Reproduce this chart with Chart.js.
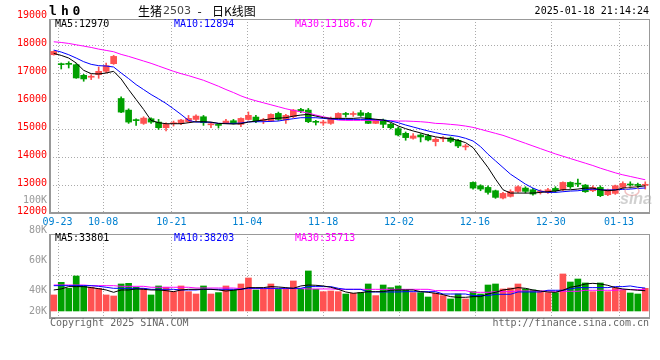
<!DOCTYPE html>
<html>
<head>
<meta charset="utf-8">
<script src="https://cdn.jsdelivr.net/npm/chart.js@4.4.1/dist/chart.umd.min.js"></script>
<style>
    body { margin: 0; background: #fff; }
    #wrap { position: relative; width: 660px; height: 360px; }
    canvas { position: absolute; left: 0; top: 0; }
</style>
</head>
<body>
<div id="wrap">
    <canvas id="chartKline" width="660" height="360"></canvas>
    <canvas id="chartVolume" width="660" height="360"></canvas>
</div>
<script>
// trading days shown (lh2503 daily)
const dates = [
    "09-20", "09-23", "09-24", "09-25", "09-26", "09-27", "09-30", "10-08", "10-09", "10-10",
    "10-11", "10-14", "10-15", "10-16", "10-17", "10-18", "10-21", "10-22", "10-23", "10-24",
    "10-25", "10-28", "10-29", "10-30", "10-31", "11-01", "11-04", "11-05", "11-06", "11-07",
    "11-08", "11-11", "11-12", "11-13", "11-14", "11-15", "11-18", "11-19", "11-20", "11-21",
    "11-22", "11-25", "11-26", "11-27", "11-28", "11-29", "12-02", "12-03", "12-04", "12-05",
    "12-06", "12-09", "12-10", "12-11", "12-12", "12-13", "12-16", "12-17", "12-18", "12-19",
    "12-20", "12-23", "12-24", "12-25", "12-26", "12-27", "12-30", "12-31", "01-02", "01-03",
    "01-06", "01-07", "01-08", "01-09", "01-10", "01-13", "01-14", "01-15", "01-16", "01-17",
];

const opens = [
    17654, 17310, 17345, 17298, 16919, 16850, 16943, 17061, 17334, 16090,
    15675, 15320, 15201, 15367, 15248, 15047, 15190, 15201, 15260, 15343,
    15438, 15150, 15142, 15225, 15296, 15165, 15340, 15427, 15300, 15285,
    15558, 15321, 15439, 15700, 15676, 15260, 15214, 15202, 15404, 15540,
    15520, 15581, 15558, 15202, 15321, 15167, 15013, 14847, 14669, 14787,
    14752, 14550, 14650, 14680, 14596, 14360, 13092, 12973, 12914, 12795,
    12535, 12594, 12772, 12890, 12831, 12750, 12736, 12878, 12831, 13092,
    13050, 12997, 12795, 12914, 12653, 12700, 12914, 13020, 13000, 12990,
];
const highs = [
    17790, 17357, 17405, 17334, 16955, 16943, 17215, 17357, 17630, 16149,
    15722, 15367, 15438, 15402, 15343, 15225, 15284, 15343, 15485, 15509,
    15485, 15225, 15201, 15343, 15343, 15402, 15610, 15486, 15380, 15546,
    15605, 15522, 15700, 15735, 15735, 15309, 15309, 15427, 15581, 15593,
    15617, 15664, 15593, 15344, 15356, 15214, 15072, 14894, 14835, 14835,
    14811, 14692, 14728, 14715, 14632, 14454, 13115, 13009, 12973, 12819,
    12736, 12831, 12973, 12938, 12878, 12831, 12878, 12938, 13115, 13115,
    13210, 13020, 12973, 12973, 12855, 12997, 13115, 13115, 13068, 13115,
];
const lows = [
    17640, 17144, 17180, 16810, 16706, 16765, 16812, 17002, 17310, 15580,
    15201, 15130, 15165, 15201, 14987, 14928, 15106, 15154, 15225, 15296,
    15130, 15047, 15035, 15201, 15177, 15083, 15320, 15226, 15190, 15261,
    15309, 15202, 15403, 15581, 15226, 15143, 15131, 15167, 15380, 15427,
    15451, 15451, 15190, 15190, 15048, 15001, 14752, 14598, 14633, 14538,
    14574, 14396, 14550, 14515, 14336, 14253, 12855, 12795, 12677, 12523,
    12499, 12570, 12736, 12712, 12641, 12677, 12700, 12736, 12795, 12878,
    12938, 12736, 12760, 12582, 12618, 12665, 12878, 12890, 12902, 12855,
];
const closes = [
    17772, 17298, 17310, 16824, 16789, 16880, 17061, 17263, 17594, 15604,
    15248, 15300, 15390, 15248, 15047, 15166, 15225, 15320, 15379, 15462,
    15225, 15170, 15130, 15284, 15201, 15379, 15490, 15285, 15320, 15522,
    15344, 15486, 15676, 15640, 15261, 15240, 15250, 15380, 15558, 15520,
    15545, 15486, 15202, 15321, 15167, 15048, 14787, 14693, 14752, 14716,
    14610, 14633, 14670, 14560, 14395, 14380, 12890, 12855, 12736, 12558,
    12700, 12772, 12938, 12772, 12677, 12770, 12831, 12795, 13092, 12938,
    13030, 12760, 12914, 12618, 12831, 12973, 13056, 13000, 12985, 13010,
];

// moving averages as drawn on the chart
const ma5 = [
    17701, 17630, 17535, 17357, 17097, 16978, 16966, 17002, 17061, 16789,
    16409, 16054, 15699, 15308, 15225, 15189, 15189, 15189, 15225, 15260,
    15260, 15248, 15201, 15189, 15177, 15189, 15248, 15285, 15320, 15368,
    15390, 15404, 15460, 15498, 15522, 15463, 15404, 15380, 15380, 15380,
    15380, 15400, 15380, 15350, 15320, 15240, 15110, 15012, 14930, 14860,
    14780, 14720, 14680, 14650, 14597, 14514, 14336, 13980, 13625, 13210,
    12831, 12712, 12712, 12712, 12712, 12736, 12760, 12783, 12831, 12831,
    12855, 12890, 12890, 12831, 12795, 12819, 12890, 12914, 12938, 12970,
];
const ma10 = [
    17820, 17749, 17654, 17535, 17405, 17310, 17263, 17251, 17215, 17002,
    16801, 16587, 16409, 16232, 16078, 15912, 15722, 15521, 15308, 15248,
    15248, 15236, 15201, 15201, 15201, 15213, 15255, 15261, 15261, 15273,
    15285, 15332, 15368, 15404, 15404, 15404, 15380, 15356, 15344, 15344,
    15344, 15344, 15344, 15332, 15320, 15285, 15226, 15143, 15072, 15001,
    14930, 14870, 14811, 14775, 14739, 14668, 14573, 14371, 14099, 13862,
    13625, 13388, 13210, 13032, 12890, 12783, 12736, 12736, 12760, 12783,
    12795, 12831, 12855, 12831, 12819, 12831, 12843, 12855, 12878, 12894,
];
const ma30 = [
    18116, 18092, 18057, 18009, 17962, 17914, 17855, 17808, 17760, 17666,
    17594, 17512, 17429, 17346, 17251, 17156, 17061, 16978, 16907, 16824,
    16741, 16635, 16528, 16410, 16303, 16184, 16085, 16008, 15937, 15866,
    15795, 15723, 15664, 15617, 15569, 15498, 15439, 15380, 15320, 15309,
    15309, 15309, 15309, 15309, 15309, 15297, 15285, 15285, 15273, 15261,
    15238, 15202, 15190, 15166, 15142, 15106, 15059, 14988, 14917, 14845,
    14774, 14680, 14585, 14490, 14395, 14300, 14205, 14111, 14028, 13945,
    13862, 13779, 13696, 13601, 13518, 13435, 13364, 13305, 13246, 13186.67,
];

const volumes = [
    26700, 47800, 37800, 58300, 41700, 39500, 37800, 26700, 25000, 45000,
    46100, 39500, 37800, 26700, 41700, 39500, 32200, 41700, 32200, 28300,
    41700, 28300, 30600, 41700, 35000, 45000, 55000, 35000, 36100, 45000,
    36100, 36100, 50000, 36100, 66700, 36100, 32200, 33300, 32200, 28300,
    29500, 30600, 45000, 25600, 43300, 38900, 41700, 35000, 30600, 30600,
    23300, 29500, 25600, 20000, 28300, 20000, 32200, 28300, 43300, 45000,
    36700, 38300, 45000, 36700, 35000, 32200, 30600, 30600, 61700, 48300,
    53300, 46700, 32200, 46700, 32200, 38900, 35000, 30000, 28300, 37800,
];
const volMa5 = [
    35000, 36700, 40600, 40600, 40600, 38900, 37200, 35000, 31100, 35000,
    35000, 36700, 36100, 35000, 35000, 33900, 32200, 35000, 36100, 36100,
    36100, 36100, 35000, 33300, 34500, 36100, 38900, 38900, 38900, 40600,
    40000, 38900, 37800, 41700, 43300, 42800, 41700, 39500, 36100, 31700,
    29500, 30600, 32200, 32200, 32200, 34500, 35000, 35000, 35000, 32200,
    31100, 29500, 27200, 23900, 22800, 22800, 23900, 23900, 28300, 31100,
    35000, 36700, 38900, 37800, 35000, 33300, 31700, 31100, 34500, 39500,
    41700, 45000, 46100, 45000, 42800, 38900, 36700, 35600, 34500, 33801,
];
const volMa10 = [
    42200, 42200, 42200, 42200, 42200, 42200, 41100, 39500, 37800, 37800,
    37800, 37800, 37800, 36100, 36100, 36100, 36100, 35000, 35000, 35000,
    36100, 36100, 36100, 36100, 36100, 36100, 37800, 37800, 37800, 37800,
    37800, 37800, 37800, 37800, 40600, 40600, 40600, 40600, 37800, 36100,
    36100, 36100, 31700, 31700, 31700, 31700, 31700, 32200, 32200, 32200,
    32200, 32200, 28300, 28300, 28300, 28300, 25600, 25600, 25600, 27800,
    27800, 27800, 31700, 31700, 31700, 31700, 34500, 34500, 34500, 36700,
    38900, 38900, 38900, 38900, 38900, 40600, 40600, 41700, 39500, 38203,
];
const volMa30 = [
    43300, 43300, 43300, 43300, 43300, 42200, 42200, 42200, 42200, 41100,
    41100, 41100, 41100, 39500, 39500, 39500, 39500, 39500, 39500, 38300,
    38300, 38300, 38300, 38300, 38300, 37200, 37200, 37200, 37200, 37200,
    37200, 37200, 37200, 37200, 36700, 36700, 36700, 36700, 36100, 36100,
    36100, 36100, 36100, 36100, 36100, 36100, 36100, 36100, 36100, 36100,
    36100, 33900, 33900, 33900, 33900, 33900, 31100, 31100, 31100, 32200,
    32200, 32200, 33300, 33300, 33300, 33300, 33300, 32800, 32800, 32800,
    32800, 34500, 34500, 34500, 34500, 34500, 35600, 35600, 35600, 35713,
];

const priceTicks = [12000, 13000, 14000, 15000, 16000, 17000, 18000, 19000];
const dateTicks = ["09-23", "10-08", "10-21", "11-04", "11-18", "12-02", "12-16", "12-30", "01-13"];
const volTicks = [20000, 40000, 60000, 80000, 100000];

const UP = "#ff5252";
const DOWN = "#00a000";
const MONO = '10px "DejaVu Sans Mono"';
const candleColors = closes.map((c, i) => (c >= opens[i] ? UP : DOWN));
const last = arr => arr[arr.length - 1];

function txt (ctx, s, x, y, color, font, align) {
    ctx.font = font || MONO;
    ctx.fillStyle = color;
    ctx.textAlign = align || "left";
    ctx.textBaseline = "middle";
    ctx.fillText(s, x, y);
}

function seg (ctx, x1, y1, x2, y2) {
    ctx.beginPath();
    ctx.moveTo(x1, y1);
    ctx.lineTo(x2, y2);
    ctx.stroke();
}

// dotted grid + gray frame, shared by both panels
function drawGrid (chart, yValues) {
    const { ctx, chartArea: a, scales } = chart;
    ctx.save();
    ctx.strokeStyle = "#aaaaaa";
    ctx.lineWidth = 1;
    ctx.setLineDash([1, 2]);
    yValues.forEach(v => {
        if (v <= scales.y.min || v >= scales.y.max) return;
        const py = Math.round(scales.y.getPixelForValue(v)) + 0.5;
        seg(ctx, a.left, py, a.right, py);
    });
    dateTicks.forEach(d => {
        const px = Math.round(scales.xg.getPixelForValue(dates.indexOf(d))) + 0.5;
        seg(ctx, px, a.top, px, a.bottom);
    });
    ctx.setLineDash([]);
    ctx.strokeStyle = "#999999";
    seg(ctx, a.left, a.top + 0.5, a.right, a.top + 0.5);
    seg(ctx, a.right + 0.5, a.top, a.right + 0.5, a.bottom);
    ctx.lineWidth = 2;
    seg(ctx, a.left, a.top, a.left, a.bottom + 1);
    seg(ctx, a.left, a.bottom, a.right + 1, a.bottom);
    ctx.restore();
}

const klinePlugin = {
    id: "klineDecor",
    beforeDatasetsDraw (chart) {
        drawGrid(chart, priceTicks);
    },
    afterDraw (chart) {
        const { ctx, chartArea: a, scales } = chart;
        ctx.save();
        priceTicks.forEach(v => {
            txt(ctx, String(v), 47, scales.y.getPixelForValue(v) - 2, "#ff0000", MONO, "right");
        });
        dateTicks.forEach(d => {
            txt(ctx, d, scales.xg.getPixelForValue(dates.indexOf(d)), 222, "#0080d0", MONO, "center");
        });
        // header
        const bold = 'bold 13px "DejaVu Sans Mono"';
        txt(ctx, "l", 53, 12, "#000", bold, "center");
        txt(ctx, "h", 65, 12, "#000", bold, "center");
        txt(ctx, "0", 76.5, 12, "#000", bold, "center");
        const cjk = '12px "Noto Sans CJK SC"';
        txt(ctx, "生猪", 138, 11.5, "#000", cjk);
        txt(ctx, "2503", 163, 11.5, "#444", '11px "DejaVu Sans"');
        txt(ctx, "-", 199.5, 11.5, "#000", cjk, "center");
        txt(ctx, "日K线图", 212, 11.5, "#000", cjk);
        txt(ctx, "2025-01-18 21:14:24", 649, 11.5, "#000", MONO, "right");
        txt(ctx, "MA5:" + last(ma5), a.left + 5, 24, "#000");
        txt(ctx, "MA10:" + last(ma10), 174, 24, "#0000ff");
        txt(ctx, "MA30:" + last(ma30), 295, 24, "#ff00ff");
        // sina mark
        ctx.strokeStyle = "rgba(230,150,150,0.6)";
        ctx.lineWidth = 1.5;
        ctx.beginPath();
        ctx.ellipse(632, 191, 7, 4.5, 0, 0, Math.PI * 2);
        ctx.stroke();
        txt(ctx, "sina", 620, 200, "rgba(170,170,170,0.55)", 'italic bold 16px "Liberation Sans"');
        ctx.restore();
    },
};

const volumePlugin = {
    id: "volumeDecor",
    beforeDatasetsDraw (chart) {
        drawGrid(chart, [60000]);
    },
    afterDraw (chart) {
        const { ctx, scales } = chart;
        ctx.save();
        // Sina lays these labels on their own 20K = 30px ladder, lowest one held at the bar base
        const base = scales.y.getPixelForValue(0);
        volTicks.forEach(v => {
            const py = Math.min(base + 40 - (v / 20000) * 30.2, base);
            txt(ctx, v / 1000 + "K", 47, py, "#999999", MONO, "right");
        });
        txt(ctx, "MA5:" + last(volMa5), 55, 238.5, "#000");
        txt(ctx, "MA10:" + last(volMa10), 174, 238.5, "#0000ff");
        txt(ctx, "MA30:" + last(volMa30), 295, 238.5, "#ff00ff");
        txt(ctx, "Copyright 2025 SINA.COM", 50, 323, "#666666");
        txt(ctx, "http://finance.sina.com.cn", 649, 323, "#666666", MONO, "right");
        ctx.restore();
    },
};

function maLine (data, color) {
    return {
        type: "line",
        data: data,
        borderColor: color,
        borderWidth: 1,
        pointRadius: 0,
        tension: 0,
        order: 0,
    };
}

// xg: plain linear index axis the date grid hangs on (Sina spaces its grid a bit wider than the bars)
const sharedScales = (yMin, yMax) => ({
    x: { type: "category", offset: true, display: false },
    xg: { type: "linear", axis: "x", position: "bottom", offset: false, min: 0, max: 78.95, display: false },
    y: { type: "linear", min: yMin, max: yMax, display: false },
});

const ctxKline = document.getElementById("chartKline").getContext("2d");
const chartKline = new Chart(ctxKline, {
    type: "bar",
    data: {
        labels: dates,
        datasets: [
            maLine(ma5, "#000000"),
            maLine(ma10, "#0000ff"),
            maLine(ma30, "#ff00ff"),
            {
                label: "body",
                data: opens.map((o, i) => [o, closes[i]]),
                backgroundColor: candleColors,
                barThickness: 6,
                minBarLength: 1,
                order: 1,
            },
            {
                label: "wick",
                data: lows.map((l, i) => [l, highs[i]]),
                backgroundColor: candleColors,
                barThickness: 1,
                order: 2,
            },
        ],
    },
    options: {
        responsive: false,
        animation: false,
        layout: { padding: { left: 50, right: 11, top: 19, bottom: 147 } },
        datasets: { bar: { grouped: false } },
        plugins: {
            legend: { display: false },
            tooltip: { enabled: false },
        },
        scales: sharedScales(12000, 18930),
    },
    plugins: [klinePlugin],
});

const ctxVolume = document.getElementById("chartVolume").getContext("2d");
const chartVolume = new Chart(ctxVolume, {
    type: "bar",
    data: {
        labels: dates,
        datasets: [
            maLine(volMa5, "#000000"),
            maLine(volMa10, "#0000ff"),
            maLine(volMa30, "#ff00ff"),
            {
                label: "volume",
                data: volumes,
                backgroundColor: candleColors,
                barThickness: 6,
                order: 1,
            },
        ],
    },
    options: {
        responsive: false,
        animation: false,
        layout: { padding: { left: 50, right: 11, top: 234, bottom: 42 } },
        datasets: { bar: { grouped: false } },
        plugins: {
            legend: { display: false },
            tooltip: { enabled: false },
        },
        scales: sharedScales(-11700, 128300),
    },
    plugins: [volumePlugin],
});
</script>
</body>
</html>
